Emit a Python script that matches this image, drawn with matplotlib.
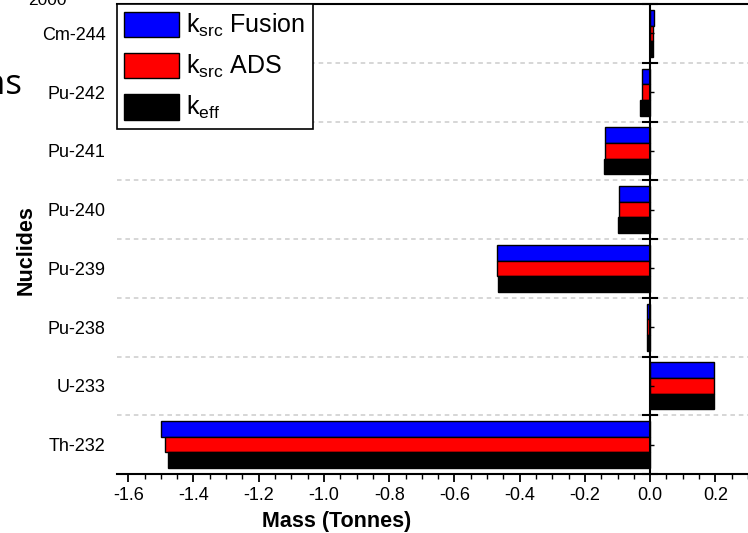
import matplotlib
matplotlib.use('Agg')
import matplotlib.pyplot as plt
import numpy as np
from matplotlib.ticker import MultipleLocator

# ---- data ----
nuclides = ['Th-232', 'U-233', 'Pu-238', 'Pu-239', 'Pu-240', 'Pu-241', 'Pu-242', 'Cm-244']
ksrc_fusion = [-1.500, 0.196, -0.009, -0.468, -0.096, -0.139, -0.026, 0.011]
ksrc_ads = [-1.487, 0.196, -0.009, -0.468, -0.095, -0.139, -0.024, 0.009]
keff = [-1.479, 0.196, -0.011, -0.467, -0.100, -0.140, -0.030, 0.008]
series_labels = [r'k$_{src}$ Fusion', r'k$_{src}$ ADS', r'k$_{eff}$']
series_colors = ['#0000ff', '#ff0000', '#000000']
x_ticks = [-1.6, -1.4, -1.2, -1.0, -0.8, -0.6, -0.4, -0.2, 0.0, 0.2]
x_tick_labels = ['-1.6', '-1.4', '-1.2', '-1.0', '-0.8', '-0.6', '-0.4', '-0.2', '0.0', '0.2']

plt.rcParams['font.family'] = ['Liberation Sans', 'DejaVu Sans']
plt.rcParams['mathtext.fontset'] = 'custom'
plt.rcParams['mathtext.rm'] = 'Liberation Sans'
plt.rcParams['mathtext.it'] = 'Liberation Sans'
plt.rcParams['mathtext.default'] = 'regular'
plt.rcParams['axes.unicode_minus'] = False

W, H = 748, 533
fig = plt.figure(figsize=(W / 100, H / 100), dpi=100)
ax = fig.add_axes([116.5 / W, (H - 474) / H, 1 - 116.5 / W, (474 - 4) / H])

y = np.arange(len(nuclides))
h = 0.8 / 3
for i, (vals, c, lab) in enumerate(zip([ksrc_fusion, ksrc_ads, keff], series_colors, series_labels)):
    ax.barh(y + h * (1 - i), vals, height=h, color=c, edgecolor='black',
            linewidth=1, label=lab, zorder=3)

ax.set_xlim(-1.636, 0.30)
ax.set_ylim(-0.5, len(nuclides) - 0.5)

boundaries = np.arange(1, len(nuclides)) - 0.5
for b in boundaries:
    ax.axhline(b, color='#cccccc', ls=(0, (3, 2.5)), lw=1.1, zorder=1)

for s in ['left', 'right']:
    ax.spines[s].set_visible(False)
ax.spines['top'].set_linewidth(1.5)
ax.spines['bottom'].set_linewidth(1.5)

ax.set_yticks(y)
ax.set_yticklabels(nuclides)
ax.tick_params(axis='y', which='both', length=0, pad=8, labelsize=13)

ax.set_xticks(x_ticks)
ax.set_xticklabels(x_tick_labels)
ax.xaxis.set_minor_locator(MultipleLocator(0.05))
ax.tick_params(axis='x', which='major', direction='out', length=6, width=1.3, labelsize=13, pad=3)
ax.tick_params(axis='x', which='minor', direction='out', length=3.5, width=1)
ax.tick_params(axis='x', top=False, which='both')

# zero axis with its ticks
ax.axvline(0, color='black', lw=1.5, zorder=4)
all_bounds = np.arange(len(nuclides) + 1) - 0.5
ax.plot(np.zeros(len(all_bounds)), all_bounds, ls='none', marker='_', ms=11, mew=1.5,
        color='black', zorder=5, clip_on=False)
ax.plot(np.zeros(len(y)), y, ls='none', marker=1, ms=3, mew=1, color='black', zorder=5)

leg = ax.legend(loc='upper left', bbox_to_anchor=(0, 1), borderaxespad=0, fontsize=18,
                frameon=True, fancybox=False, edgecolor='black', framealpha=1,
                handlelength=2.2, handleheight=1.2, handletextpad=0.3, borderpad=0.3,
                labelspacing=0.55)
leg.get_frame().set_linewidth(1.2)
leg.set_zorder(6)

fig.text(337 / W, 1 - 521 / H, 'Mass (Tonnes)', ha='center', va='center', fontsize=15.5, fontweight='bold')
fig.text(26 / W, 1 - 250 / H, 'Nuclides', ha='center', va='center', rotation=90, fontsize=15.5, fontweight='bold')

fig.text(47 / W, 1 - 5 / H, '2000', ha='center', va='baseline', fontsize=12.5)
fig.text(22 / W, 1 - 94 / H, 'ns', ha='right', va='baseline', fontsize=25, family=['Open Sans', 'DejaVu Sans'])

fig.savefig('out.png', dpi=100)
